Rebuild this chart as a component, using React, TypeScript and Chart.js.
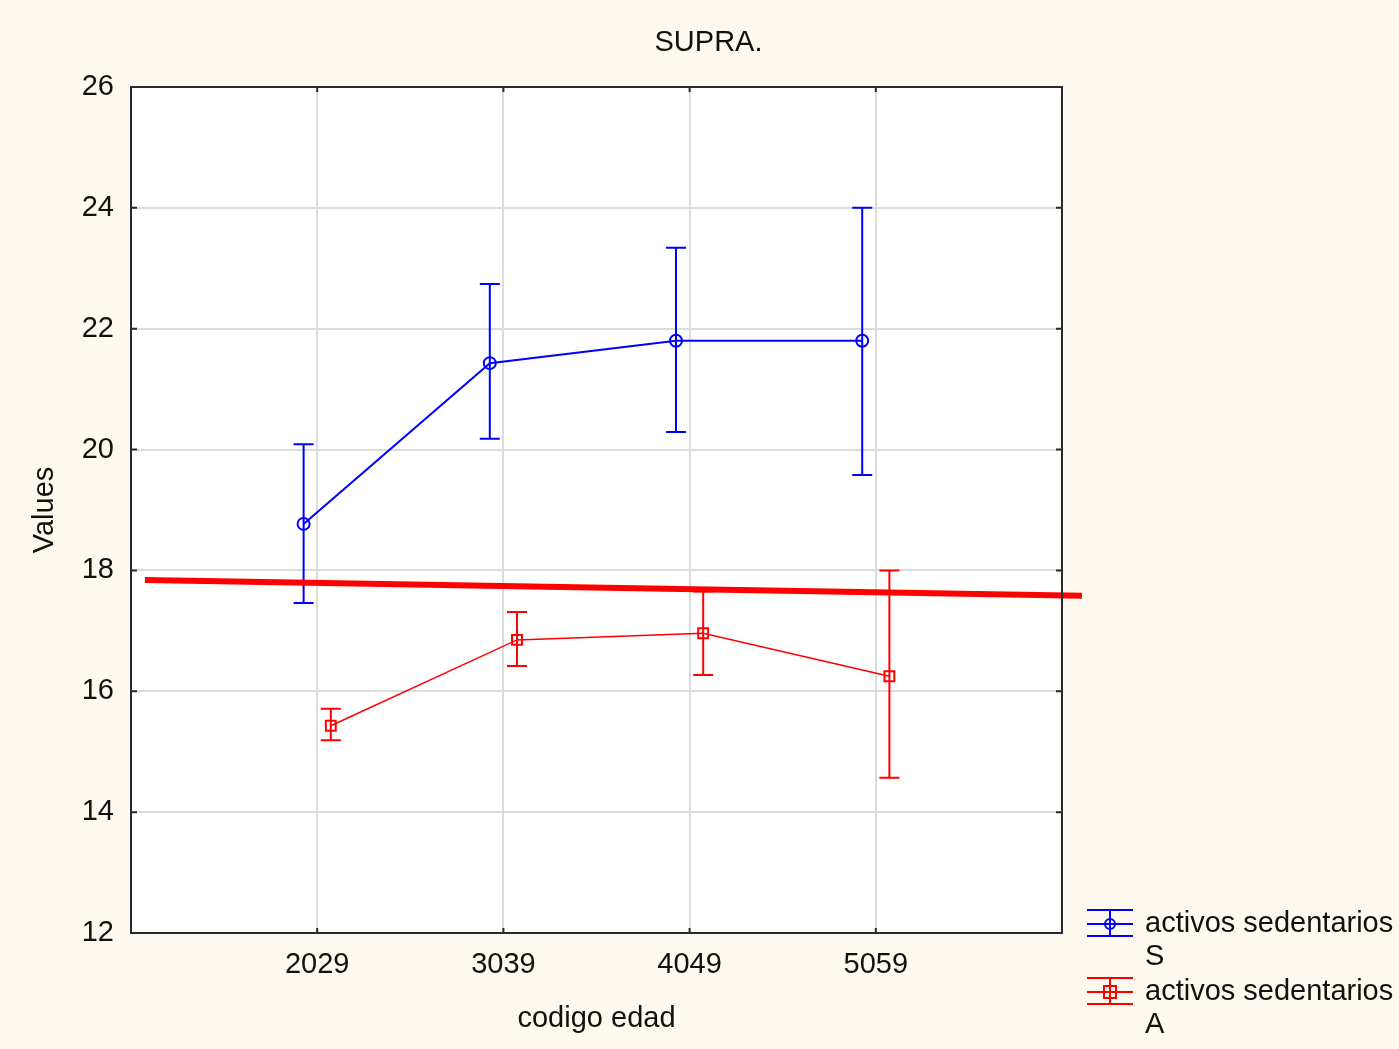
import React, { useEffect, useRef } from 'react';
import { Chart, registerables } from 'chart.js';

Chart.register(...registerables);

// ---- data ----
const chartTitle = 'SUPRA.';
const xAxisTitle = 'codigo edad';
const yAxisTitle = 'Values';
const categories = ['2029', '3039', '4049', '5059'];
const seriesSName = ['activos sedentarios', 'S'];
const seriesAName = ['activos sedentarios', 'A'];
const sMean = [18.77, 21.43, 21.8, 21.8];
const sLow = [17.46, 20.18, 20.29, 19.58];
const sHigh = [20.09, 22.74, 23.34, 24.0];
const aMean = [15.43, 16.85, 16.96, 16.25];
const aLow = [15.19, 16.42, 16.27, 14.57];
const aHigh = [15.71, 17.31, 17.65, 18.0];
const refLineX = [0.075, 5.107];
const refLineY = [17.84, 17.58];
const yMin = 12;
const yMax = 26;
const yStep = 2;

const FONT = "'Liberation Sans', Arial, sans-serif";
const FS = 29;
const BLUE = '#0000ff';
const RED = '#ff0000';
const BG = '#fef9ef';
const TEXT = '#111111';
const S_OFF = -0.073;
const A_OFF = 0.073;

export default function App() {
  const ref = useRef<HTMLCanvasElement | null>(null);

  useEffect(() => {
    document.body.style.margin = '0';
    document.body.style.background = BG;
    const canvas = ref.current;
    if (!canvas) return;

    const sPts = sMean.map((v, i) => ({ x: i + 1 + S_OFF, y: v }));
    const aPts = aMean.map((v, i) => ({ x: i + 1 + A_OFF, y: v }));
    const refPts = refLineX.map((x, i) => ({ x, y: refLineY[i] }));

    const bgPlugin = {
      id: 'bgPlugin',
      beforeDraw(chart: any) {
        const { ctx, chartArea: a } = chart;
        ctx.save();
        ctx.fillStyle = '#ffffff';
        ctx.fillRect(a.left, a.top, a.right - a.left, a.bottom - a.top);
        ctx.restore();
      },
    };

    const errPlugin = {
      id: 'errPlugin',
      beforeDatasetsDraw(chart: any) {
        const { ctx } = chart;
        const xs = chart.scales.x;
        const ys = chart.scales.y;
        const draw = (low: number[], high: number[], off: number, color: string) => {
          ctx.save();
          ctx.strokeStyle = color;
          ctx.lineWidth = 2;
          low.forEach((lo, i) => {
            const px = xs.getPixelForValue(i + 1 + off);
            const y1 = ys.getPixelForValue(lo);
            const y2 = ys.getPixelForValue(high[i]);
            ctx.beginPath();
            ctx.moveTo(px, y1);
            ctx.lineTo(px, y2);
            ctx.moveTo(px - 10, y1);
            ctx.lineTo(px + 10, y1);
            ctx.moveTo(px - 10, y2);
            ctx.lineTo(px + 10, y2);
            ctx.stroke();
          });
          ctx.restore();
        };
        draw(sLow, sHigh, S_OFF, BLUE);
        draw(aLow, aHigh, A_OFF, RED);
      },
    };

    const framePlugin = {
      id: 'framePlugin',
      afterDraw(chart: any) {
        const { ctx, chartArea: a } = chart;
        const xs = chart.scales.x;
        const ys = chart.scales.y;
        ctx.save();
        ctx.strokeStyle = '#2a2a2a';
        ctx.lineWidth = 2;
        ctx.strokeRect(a.left, a.top, a.right - a.left, a.bottom - a.top);
        ctx.beginPath();
        for (let v = yMin + yStep; v < yMax; v += yStep) {
          const py = ys.getPixelForValue(v);
          ctx.moveTo(a.left, py);
          ctx.lineTo(a.left + 6, py);
          ctx.moveTo(a.right, py);
          ctx.lineTo(a.right - 6, py);
        }
        categories.forEach((_, i) => {
          const px = xs.getPixelForValue(i + 1);
          ctx.moveTo(px, a.bottom);
          ctx.lineTo(px, a.bottom - 5);
          ctx.moveTo(px, a.top);
          ctx.lineTo(px, a.top + 5);
        });
        ctx.stroke();

        // title
        ctx.fillStyle = TEXT;
        ctx.font = `${FS}px ${FONT}`;
        ctx.textAlign = 'center';
        ctx.textBaseline = 'middle';
        ctx.fillText(chartTitle, chart.width / 2 + 9, 43);

        // legend
        const lx = a.right + 25;
        const drawEntry = (top: number, color: string, marker: string, lines: string[]) => {
          const mid = top + 14;
          const cx = lx + 23;
          ctx.strokeStyle = color;
          ctx.lineWidth = 2;
          ctx.beginPath();
          ctx.moveTo(lx, top);
          ctx.lineTo(lx + 46, top);
          ctx.moveTo(lx, mid);
          ctx.lineTo(lx + 46, mid);
          ctx.moveTo(lx, top + 26);
          ctx.lineTo(lx + 46, top + 26);
          ctx.moveTo(cx, top);
          ctx.lineTo(cx, top + 26);
          ctx.stroke();
          ctx.beginPath();
          if (marker === 'circle') {
            ctx.arc(cx, mid, 5, 0, Math.PI * 2);
          } else {
            ctx.rect(cx - 6, mid - 6, 12, 12);
          }
          ctx.stroke();
          ctx.fillStyle = TEXT;
          ctx.font = `${FS}px ${FONT}`;
          ctx.textAlign = 'left';
          ctx.textBaseline = 'middle';
          lines.forEach((t, j) => ctx.fillText(t, lx + 58, mid + j * 33));
        };
        drawEntry(910, BLUE, 'circle', seriesSName);
        drawEntry(978, RED, 'rect', seriesAName);
        ctx.restore();
      },
    };

    const chart = new Chart(canvas, {
      type: 'line',
      data: {
        datasets: [
          {
            label: seriesSName.join(' '),
            data: sPts,
            borderColor: BLUE,
            borderWidth: 2,
            pointStyle: 'circle',
            pointRadius: 6,
            pointBorderWidth: 2,
            pointBorderColor: BLUE,
            pointBackgroundColor: 'rgba(0,0,0,0)',
            tension: 0,
          },
          {
            label: seriesAName.join(' '),
            data: aPts,
            borderColor: RED,
            borderWidth: 1.5,
            pointStyle: 'rect',
            pointRadius: 7,
            pointBorderWidth: 2,
            pointBorderColor: RED,
            pointBackgroundColor: 'rgba(0,0,0,0)',
            tension: 0,
          },
          {
            label: 'ref',
            data: refPts,
            borderColor: RED,
            borderWidth: 6,
            pointRadius: 0,
            clip: false as any,
            tension: 0,
          },
        ],
      },
      options: {
        responsive: false,
        animation: false,
        layout: { padding: { top: 87, right: 337, left: 0, bottom: 0 } },
        plugins: {
          legend: { display: false },
          title: { display: false },
          tooltip: { enabled: false },
        },
        scales: {
          x: {
            type: 'linear',
            min: 0,
            max: 5,
            afterFit(scale: any) {
              scale.height = 116;
            },
            ticks: {
              stepSize: 1,
              autoSkip: false,
              maxRotation: 0,
              padding: 15,
              color: TEXT,
              font: { family: FONT, size: FS },
              callback: (v: any) => {
                const i = Math.round(Number(v)) - 1;
                return categories[i] ?? '';
              },
            },
            grid: { color: '#dcdcdc', lineWidth: 2, drawTicks: false },
            border: { display: false },
            title: {
              display: true,
              text: xAxisTitle,
              color: TEXT,
              font: { family: FONT, size: FS },
              padding: { top: 0, bottom: 13 },
            },
          },
          y: {
            type: 'linear',
            min: yMin,
            max: yMax,
            afterFit(scale: any) {
              scale.width = 131;
            },
            ticks: {
              stepSize: yStep,
              padding: 17,
              color: TEXT,
              font: { family: FONT, size: FS },
            },
            grid: { color: '#dcdcdc', lineWidth: 2, drawTicks: false },
            border: { display: false },
            title: {
              display: true,
              text: yAxisTitle,
              color: TEXT,
              font: { family: FONT, size: FS },
              padding: { top: 28, bottom: 0 },
            },
          },
        },
      },
      plugins: [bgPlugin, errPlugin, framePlugin],
    });

    return () => chart.destroy();
  }, []);

  return (
    <div style={{ width: 1399, height: 1049, background: BG }}>
      <canvas ref={ref} width={1399} height={1049} style={{ display: 'block' }} />
    </div>
  );
}
